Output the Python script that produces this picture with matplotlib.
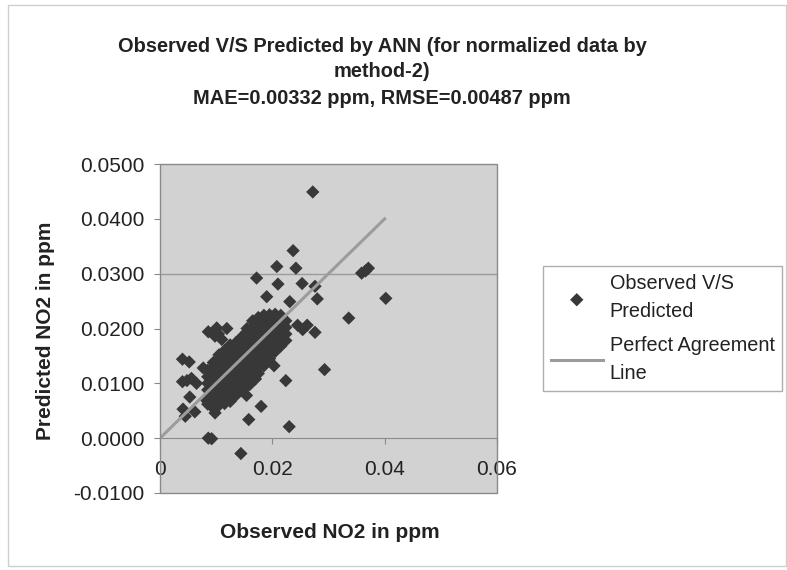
import matplotlib
matplotlib.use("Agg")
import matplotlib.pyplot as plt
from matplotlib.patches import Rectangle
from matplotlib.ticker import FuncFormatter

plt.rcParams['font.family'] = ['Liberation Sans', 'DejaVu Sans']

# dense band of observed / predicted pairs (ppm)
cluster = [
    (0.0085, 0.0062), (0.0085, 0.0075), (0.0085, 0.0088), (0.0085, 0.0100), (0.0085, 0.0112), (0.0085, 0.0124),
    (0.0095, 0.0056), (0.0095, 0.0068), (0.0095, 0.0080), (0.0095, 0.0092), (0.0095, 0.0104), (0.0095, 0.0116),
    (0.0095, 0.0128), (0.0095, 0.0138),
    (0.0105, 0.0060), (0.0105, 0.0072), (0.0105, 0.0084), (0.0105, 0.0096), (0.0105, 0.0108), (0.0105, 0.0120),
    (0.0105, 0.0132), (0.0105, 0.0144), (0.0105, 0.0152),
    (0.0115, 0.0063), (0.0115, 0.0076), (0.0115, 0.0088), (0.0115, 0.0100), (0.0115, 0.0112), (0.0115, 0.0124),
    (0.0115, 0.0136), (0.0115, 0.0148), (0.0115, 0.0160),
    (0.0125, 0.0067), (0.0125, 0.0080), (0.0125, 0.0092), (0.0125, 0.0104), (0.0125, 0.0116), (0.0125, 0.0128),
    (0.0125, 0.0140), (0.0125, 0.0152), (0.0125, 0.0164), (0.0125, 0.0170),
    (0.0135, 0.0078), (0.0135, 0.0090), (0.0135, 0.0102), (0.0135, 0.0114), (0.0135, 0.0126), (0.0135, 0.0138),
    (0.0135, 0.0150), (0.0135, 0.0162), (0.0135, 0.0174),
    (0.0145, 0.0088), (0.0145, 0.0100), (0.0145, 0.0112), (0.0145, 0.0124), (0.0145, 0.0136), (0.0145, 0.0148),
    (0.0145, 0.0160), (0.0145, 0.0172), (0.0145, 0.0184),
    (0.0155, 0.0097), (0.0155, 0.0110), (0.0155, 0.0122), (0.0155, 0.0134), (0.0155, 0.0146), (0.0155, 0.0158),
    (0.0155, 0.0170), (0.0155, 0.0182), (0.0155, 0.0194), (0.0155, 0.0200),
    (0.0165, 0.0106), (0.0165, 0.0118), (0.0165, 0.0130), (0.0165, 0.0142), (0.0165, 0.0154), (0.0165, 0.0166),
    (0.0165, 0.0178), (0.0165, 0.0190), (0.0165, 0.0202), (0.0165, 0.0214),
    (0.0175, 0.0118), (0.0175, 0.0130), (0.0175, 0.0142), (0.0175, 0.0154), (0.0175, 0.0166), (0.0175, 0.0178),
    (0.0175, 0.0190), (0.0175, 0.0202), (0.0175, 0.0214), (0.0175, 0.0220),
    (0.0185, 0.0132), (0.0185, 0.0144), (0.0185, 0.0156), (0.0185, 0.0168), (0.0185, 0.0180), (0.0185, 0.0192),
    (0.0185, 0.0204), (0.0185, 0.0216), (0.0185, 0.0224),
    (0.0195, 0.0145), (0.0195, 0.0157), (0.0195, 0.0169), (0.0195, 0.0181), (0.0195, 0.0193), (0.0195, 0.0205),
    (0.0195, 0.0217), (0.0195, 0.0225),
    (0.0205, 0.0158), (0.0205, 0.0170), (0.0205, 0.0182), (0.0205, 0.0194), (0.0205, 0.0206), (0.0205, 0.0218),
    (0.0205, 0.0226),
    (0.0215, 0.0168), (0.0215, 0.0180), (0.0215, 0.0192), (0.0215, 0.0204), (0.0215, 0.0216), (0.0215, 0.0224),
    (0.0224, 0.0178), (0.0224, 0.0190), (0.0224, 0.0202), (0.0224, 0.0214),
    (0.0150, 0.0090), (0.0160, 0.0098), (0.0170, 0.0108), (0.0082, 0.0070), (0.0090, 0.0060),
]

# scattered points away from the band
scatter_pts = [
    (0.0272, 0.0449), (0.0237, 0.0342), (0.0208, 0.0313), (0.0242, 0.0310), (0.0172, 0.0292),
    (0.0210, 0.0281), (0.0253, 0.0282), (0.0276, 0.0277), (0.0190, 0.0258), (0.0231, 0.0249),
    (0.0280, 0.0254), (0.0359, 0.0301), (0.0371, 0.0310), (0.0366, 0.0305), (0.0402, 0.0255),
    (0.0336, 0.0219), (0.0245, 0.0206), (0.0262, 0.0206), (0.0276, 0.0193), (0.0254, 0.0198),
    (0.0293, 0.0125), (0.0224, 0.0105), (0.0203, 0.0132), (0.0180, 0.0058), (0.0158, 0.0034),
    (0.0230, 0.0021), (0.0144, -0.0028), (0.0086, 0.0000), (0.0092, -0.0001), (0.0154, 0.0078),
    (0.0098, 0.0046), (0.0041, 0.0053), (0.0045, 0.0040), (0.0062, 0.0048), (0.0053, 0.0075),
    (0.0040, 0.0103), (0.0056, 0.0109), (0.0065, 0.0100), (0.0048, 0.0105), (0.0040, 0.0144),
    (0.0052, 0.0139), (0.0086, 0.0194), (0.0098, 0.0186), (0.0110, 0.0180), (0.0119, 0.0200),
    (0.0101, 0.0201), (0.0104, 0.0190), (0.0077, 0.0128),
]

observed = [p[0] for p in cluster + scatter_pts]
predicted = [p[1] for p in cluster + scatter_pts]

line_x = [0.0, 0.04]
line_y = [0.0, 0.04]

fig = plt.figure(figsize=(7.87, 5.70), dpi=100)
W, H = 787, 570
ax = fig.add_axes([160 / W, 1 - 493 / H, 337 / W, 329 / H])
ax.set_facecolor('#d2d2d2')

ax.axhline(0.03, color='#9a9a9a', lw=1, zorder=1)
pts = ax.scatter(observed, predicted, marker='D', s=46, color='#383838',
                 edgecolors='none', zorder=3, label='Observed V/S\nPredicted')
ln, = ax.plot(line_x, line_y, color='#9c9c9c', lw=2.2, zorder=4,
              label='Perfect Agreement\nLine')

ax.set_xlim(0, 0.06)
ax.set_ylim(-0.01, 0.05)
ax.set_xticks([0, 0.02, 0.04, 0.06])
ax.set_yticks([-0.01, 0, 0.01, 0.02, 0.03, 0.04, 0.05])
ax.xaxis.set_major_formatter(FuncFormatter(lambda v, p: '0' if v == 0 else '%.2f' % v))
ax.yaxis.set_major_formatter(FuncFormatter(lambda v, p: '%.4f' % v))

for s in ['top', 'right', 'left']:
    ax.spines[s].set_visible(False)
ax.spines['bottom'].set_position(('data', 0))
ax.spines['bottom'].set_color('#8a8a8a')
ax.add_patch(Rectangle((0, 0), 1, 1, transform=ax.transAxes, fill=False,
                       edgecolor='#8a8a8a', lw=1, zorder=5, clip_on=False))

ax.tick_params(axis='x', direction='out', length=4, color='#8a8a8a', pad=12,
               labelsize=15, labelcolor='#222222')
ax.tick_params(axis='y', direction='out', length=4, color='#8a8a8a', pad=7,
               labelsize=15, labelcolor='#222222')

fig.text(46 / W, 1 - 331 / H, 'Predicted NO2 in ppm', rotation=90,
         ha='center', va='center', fontsize=15, fontweight='bold', color='#222222')
fig.text(330 / W, 1 - 533 / H, 'Observed NO2 in ppm', ha='center', va='center',
         fontsize=15, fontweight='bold', color='#222222')

title_lines = ['Observed V/S Predicted by ANN (for normalized data by',
               'method-2)',
               'MAE=0.00332 ppm, RMSE=0.00487 ppm']
for t, yy in zip(title_lines, [46, 72, 98]):
    fig.text(382 / W, 1 - yy / H, t, ha='center', va='center', fontsize=14.4,
             fontweight='bold', color='#222222')

leg = fig.legend(handles=[pts, ln], loc='upper left',
                 bbox_to_anchor=(543 / W, 1 - 266 / H), borderaxespad=0,
                 fontsize=14.3, frameon=True, fancybox=False, edgecolor='#9a9a9a',
                 handlelength=2.6, handletextpad=0.35, borderpad=0.4,
                 labelspacing=0.75, scatterpoints=1)
leg.get_frame().set_linewidth(1)
for txt in leg.get_texts():
    txt.set_color('#222222')
    txt.set_linespacing(1.6)

fig.add_artist(Rectangle((8 / W, 1 - 566 / H), 778 / W, 561 / H, transform=fig.transFigure,
                         fill=False, edgecolor='#cfcfcf', lw=1))

fig.savefig('out.png', dpi=100)
